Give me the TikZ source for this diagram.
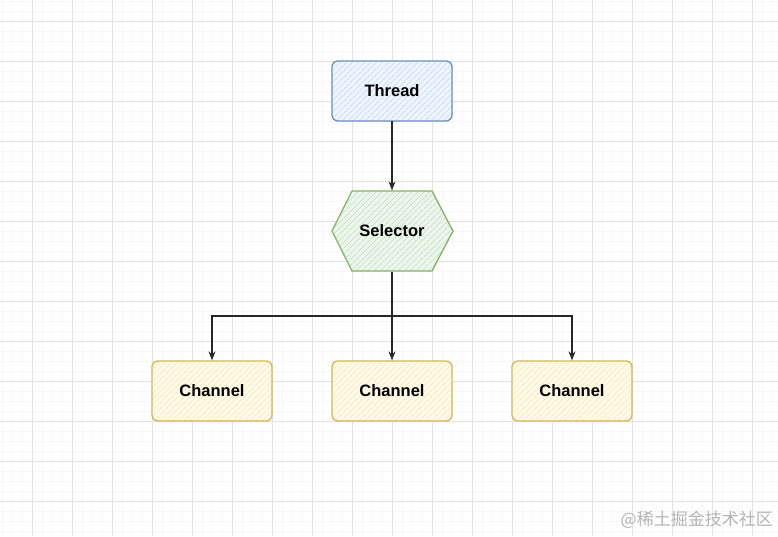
\documentclass[tikz,border=0pt]{standalone}
\usepackage{fontspec}
\setmainfont{Liberation Sans}
\newfontfamily\cjk{Noto Sans CJK SC}
\usetikzlibrary{patterns.meta,arrows.meta}
\definecolor{gridminor}{HTML}{F7F7F7}
\definecolor{gridmajor}{HTML}{E2E2E2}
\definecolor{bluefill}{HTML}{DAE8FC}
\definecolor{bluestroke}{HTML}{6C8EBF}
\definecolor{greenfill}{HTML}{D5E8D4}
\definecolor{greenstroke}{HTML}{82B366}
\definecolor{yellowfill}{HTML}{FFF2CC}
\definecolor{yellowstroke}{HTML}{D6B656}
\definecolor{wmark}{HTML}{B4B4B4}
\tikzset{
  boxbase/.style={minimum width=120pt, minimum height=60pt, rounded corners=6pt, line width=1.3pt, font=\fontsize{16.5}{18}\selectfont\bfseries, inner sep=0pt},
  threadbox/.style={boxbase, draw=bluestroke, preaction={fill=bluefill!45}, pattern={Lines[angle=45,distance=4pt,line width=0.8pt]}, pattern color=bluefill!85!bluestroke},
  chanbox/.style={boxbase, draw=yellowstroke, preaction={fill=yellowfill!45}, pattern={Lines[angle=45,distance=4pt,line width=0.8pt]}, pattern color=yellowfill!85!yellowstroke},
  hexfill/.style={draw=greenstroke, line width=1.3pt, preaction={fill=greenfill!45}, pattern={Lines[angle=45,distance=4pt,line width=0.8pt]}, pattern color=greenfill!85!greenstroke},
  conn/.style={draw=black!85, line width=1.2pt, -{Stealth[length=9pt,width=7pt,open]}},
  bus/.style={draw=black!85, line width=1.2pt},
}
\begin{document}
\begin{tikzpicture}[x=1pt,y=-1pt]
\useasboundingbox (0,0) rectangle (778,536);
\fill[white] (0,0) rectangle (778,536);
% grid
\foreach \x in {2,12,...,778} \draw[gridminor, line width=0.6pt] (\x,0) -- (\x,536);
\foreach \y in {1,11,...,536} \draw[gridminor, line width=0.6pt] (0,\y) -- (778,\y);
\foreach \x in {32,72,...,778} \draw[gridmajor, line width=0.8pt] (\x,0) -- (\x,536);
\foreach \y in {21,61,...,536} \draw[gridmajor, line width=0.8pt] (0,\y) -- (778,\y);
% nodes
\node[threadbox] (thread) at (392,91) {Thread};
\path[hexfill] (352,191) -- (432,191) -- (453,231) -- (432,271) -- (352,271) -- (332,231) -- cycle;
\node[boxbase, draw=none, rounded corners=0pt, minimum height=80pt] (sel) at (392,231) {Selector};
\node[chanbox] (ch1) at (212,391) {Channel};
\node[chanbox] (ch2) at (392,391) {Channel};
\node[chanbox] (ch3) at (572,391) {Channel};
% connectors
\draw[conn] (thread.south) -- (sel.north);
\coordinate (busc) at (392,316);
\draw[bus] (sel.south) -- (busc);
\draw[conn] (busc) -| (ch1.north);
\draw[conn] (busc) -- (ch2.north);
\draw[conn] (busc) -| (ch3.north);
% watermark
\node[anchor=east, text=wmark, font=\cjk\fontsize{17}{19}\selectfont, inner sep=0pt] (wm) at (773,520) {@稀土掘金技术社区};
\end{tikzpicture}
\end{document}
